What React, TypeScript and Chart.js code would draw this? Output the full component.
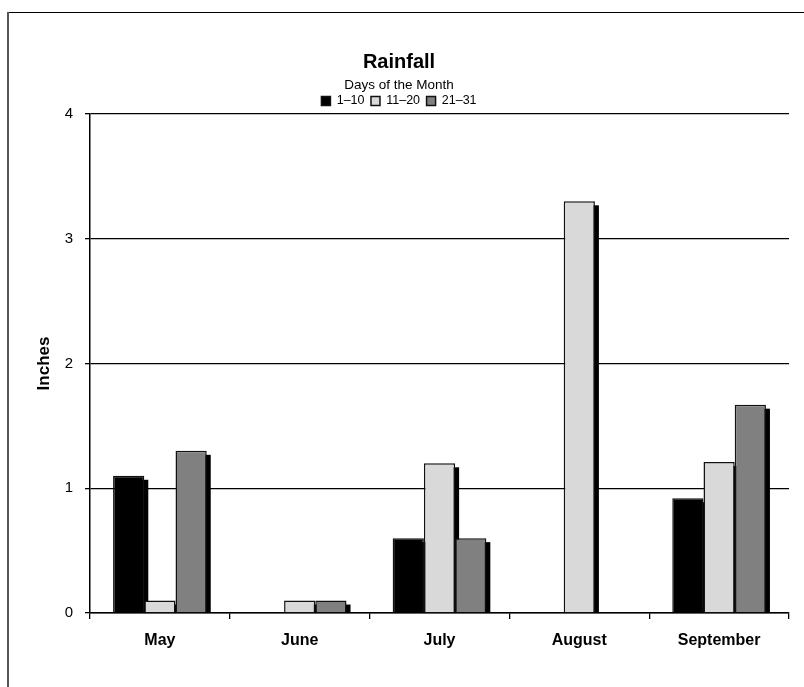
import React, { useEffect, useRef } from 'react';
import { Chart, registerables } from 'chart.js';

Chart.register(...registerables);

const months = ['May', 'June', 'July', 'August', 'September'];
const seriesLabels = ['1–10', '11–20', '21–31'];
const days1to10 = [1.1, 0, 0.6, 0, 0.92];
const days11to20 = [0.1, 0.1, 1.2, 3.3, 1.21];
const days21to31 = [1.3, 0.1, 0.6, 0, 1.67];
const seriesColors = ['#000000', '#d9d9d9', '#808080'];
const yMin = 0;
const yMax = 4;
const yStep = 1;

const FONT = '"Liberation Sans", Arial, Helvetica, sans-serif';

const shadowPlugin = {
  id: 'barShadow',
  beforeDatasetsDraw(chart: any) {
    const ctx = chart.ctx;
    const area = chart.chartArea;
    ctx.save();
    ctx.beginPath();
    ctx.rect(area.left, area.top, area.right - area.left, area.bottom - area.top);
    ctx.clip();
    ctx.fillStyle = '#000';
    chart.data.datasets.forEach((_ds: any, i: number) => {
      const meta = chart.getDatasetMeta(i);
      meta.data.forEach((el: any) => {
        const { x, y, base, width } = el.getProps(['x', 'y', 'base', 'width'], true);
        const h = base - y;
        if (h <= 0.5) return;
        ctx.fillRect(x - width / 2 + 4, y + 4, width, h - 4);
      });
    });
    ctx.restore();
  },
};

export default function App() {
  const canvasRef = useRef<HTMLCanvasElement | null>(null);

  useEffect(() => {
    if (!canvasRef.current) return;
    const seriesData = [days1to10, days11to20, days21to31];
    const chart = new Chart(canvasRef.current, {
      type: 'bar',
      data: {
        labels: months,
        datasets: seriesLabels.map((label, i) => ({
          label,
          data: seriesData[i],
          backgroundColor: seriesColors[i],
          borderColor: '#111111',
          borderWidth: 1.5,
          borderSkipped: 'start',
          categoryPercentage: 0.67,
          barPercentage: 1.0,
        })),
      },
      options: {
        responsive: false,
        animation: false,
        devicePixelRatio: 1,
        layout: { padding: { left: 9, right: 15, top: 0, bottom: 0 } },
        plugins: {
          title: {
            display: true,
            text: 'Rainfall',
            color: '#000',
            font: { family: FONT, size: 20, weight: 'bold' },
            padding: { top: 50, bottom: 1 },
          },
          legend: {
            display: true,
            position: 'top',
            maxHeight: 39,
            title: {
              display: true,
              text: 'Days of the Month',
              color: '#000',
              font: { family: FONT, size: 13.5 },
              padding: { top: 4, bottom: -7 },
            },
            labels: {
              color: '#000',
              boxWidth: 9,
              boxHeight: 9,
              padding: 6.5,
              font: { family: FONT, size: 12.5 },
            },
          },
          tooltip: { enabled: false },
        },
        scales: {
          x: {
            afterFit: (scale: any) => {
              scale.height = 74;
            },
            grid: {
              display: true,
              drawOnChartArea: false,
              drawTicks: true,
              tickLength: 6,
              color: '#000',
              lineWidth: 1.3,
              offset: true,
            },
            border: { display: true, color: '#000', width: 1.5 },
            ticks: {
              color: '#000',
              padding: 12,
              font: { family: FONT, size: 16, weight: 'bold' },
            },
          },
          y: {
            min: yMin,
            max: yMax,
            afterFit: (scale: any) => {
              scale.width = 81;
            },
            title: {
              display: true,
              text: 'Inches',
              color: '#000',
              font: { family: FONT, size: 17, weight: 'bold' },
              padding: { top: 25, bottom: 0 },
            },
            grid: {
              color: '#000',
              lineWidth: 1.3,
              tickLength: 5,
            },
            border: { display: true, color: '#000', width: 1.5 },
            ticks: {
              stepSize: yStep,
              color: '#000',
              padding: 12,
              font: { family: FONT, size: 15 },
            },
          },
        },
      },
      plugins: [shadowPlugin],
    } as any);
    return () => chart.destroy();
  }, []);

  return (
    <div
      style={{
        position: 'fixed',
        left: 0,
        top: 0,
        width: 804,
        height: 687,
        overflow: 'hidden',
        background: '#fff',
      }}
    >
      <canvas ref={canvasRef} width={804} height={687} style={{ position: 'absolute', left: 0, top: 0 }} />
      <div style={{ position: 'absolute', left: 7, top: 12, width: 797, height: 0, borderTop: '1.5px solid #000' }} />
      <div style={{ position: 'absolute', left: 7, top: 12, width: 0, height: 675, borderLeft: '2px solid #555' }} />
    </div>
  );
}
